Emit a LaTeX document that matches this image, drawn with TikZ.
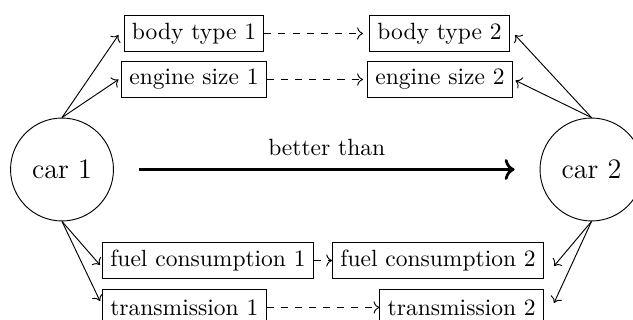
\documentclass[tikz,border=0pt]{standalone}
\usetikzlibrary{arrows.meta}
\begin{document}
\begin{tikzpicture}[x=0.4255pt,y=-0.4255pt,
  attr/.style={draw,rectangle,minimum height=15.7pt,inner sep=3.33pt},
  car/.style={draw,circle,minimum size=43.8pt,inner sep=0pt,font=\large},
  link/.style={->},
  dlink/.style={->,dashed},
  better/.style={->,very thick,shorten <=10.6pt,shorten >=10.6pt}]
\useasboundingbox (0,0) rectangle (633,320);
\clip (0,0) rectangle (633,320);
% circles
\node[car] (car1) at (62,169.5) {car 1};
\node[car] (car2) at (591.5,169.5) {car 2};
% attribute boxes
\node[attr] (bt1) at (194,33.5) {body type 1};
\node[attr] (es1) at (194,79.5) {engine size 1};
\node[attr] (bt2) at (439.5,33.5) {body type 2};
\node[attr] (es2) at (440,79.5) {engine size 2};
\node[attr,anchor=west] (fc1) at (102,260.5) {fuel consumption 1};
\node[attr,anchor=west] (tr1) at (102,307.5) {transmission 1};
\node[attr,anchor=east] (fc2) at (544,260.5) {fuel consumption 2};
\node[attr,anchor=east] (tr2) at (544,307.5) {transmission 2};
% free arrow ends
\coordinate (l1) at (118.5,35);
\coordinate (l2) at (118.5,79.5);
\coordinate (l3) at (100,265);
\coordinate (l4) at (100,301);
\coordinate (r1) at (515,35);
\coordinate (r2) at (515.5,80.5);
\coordinate (r3) at (554,266);
\coordinate (r4) at (554,303);
\coordinate (d1) at (363,33.5);
\coordinate (d2) at (363,79.5);
% connectors
\draw[better] (car1) -- node[above=2pt] {better than} (car2);
\draw[link] (car1.north) -- (l1);
\draw[link] (car1.north) -- (l2);
\draw[link] (car1.south) -- (l3);
\draw[link] (car1.south) -- (l4);
\draw[link] (car2.north) -- (r1);
\draw[link] (car2.north) -- (r2);
\draw[link] (car2.south) -- (r3);
\draw[link] (car2.south) -- (r4);
\draw[dlink] (bt1.east) -- (d1);
\draw[dlink] (es1.east) -- (d2);
\draw[dlink] (fc1.east) -- (fc2.west);
\draw[dlink] (tr1.east) -- (tr2.west);
\end{tikzpicture}
\end{document}
